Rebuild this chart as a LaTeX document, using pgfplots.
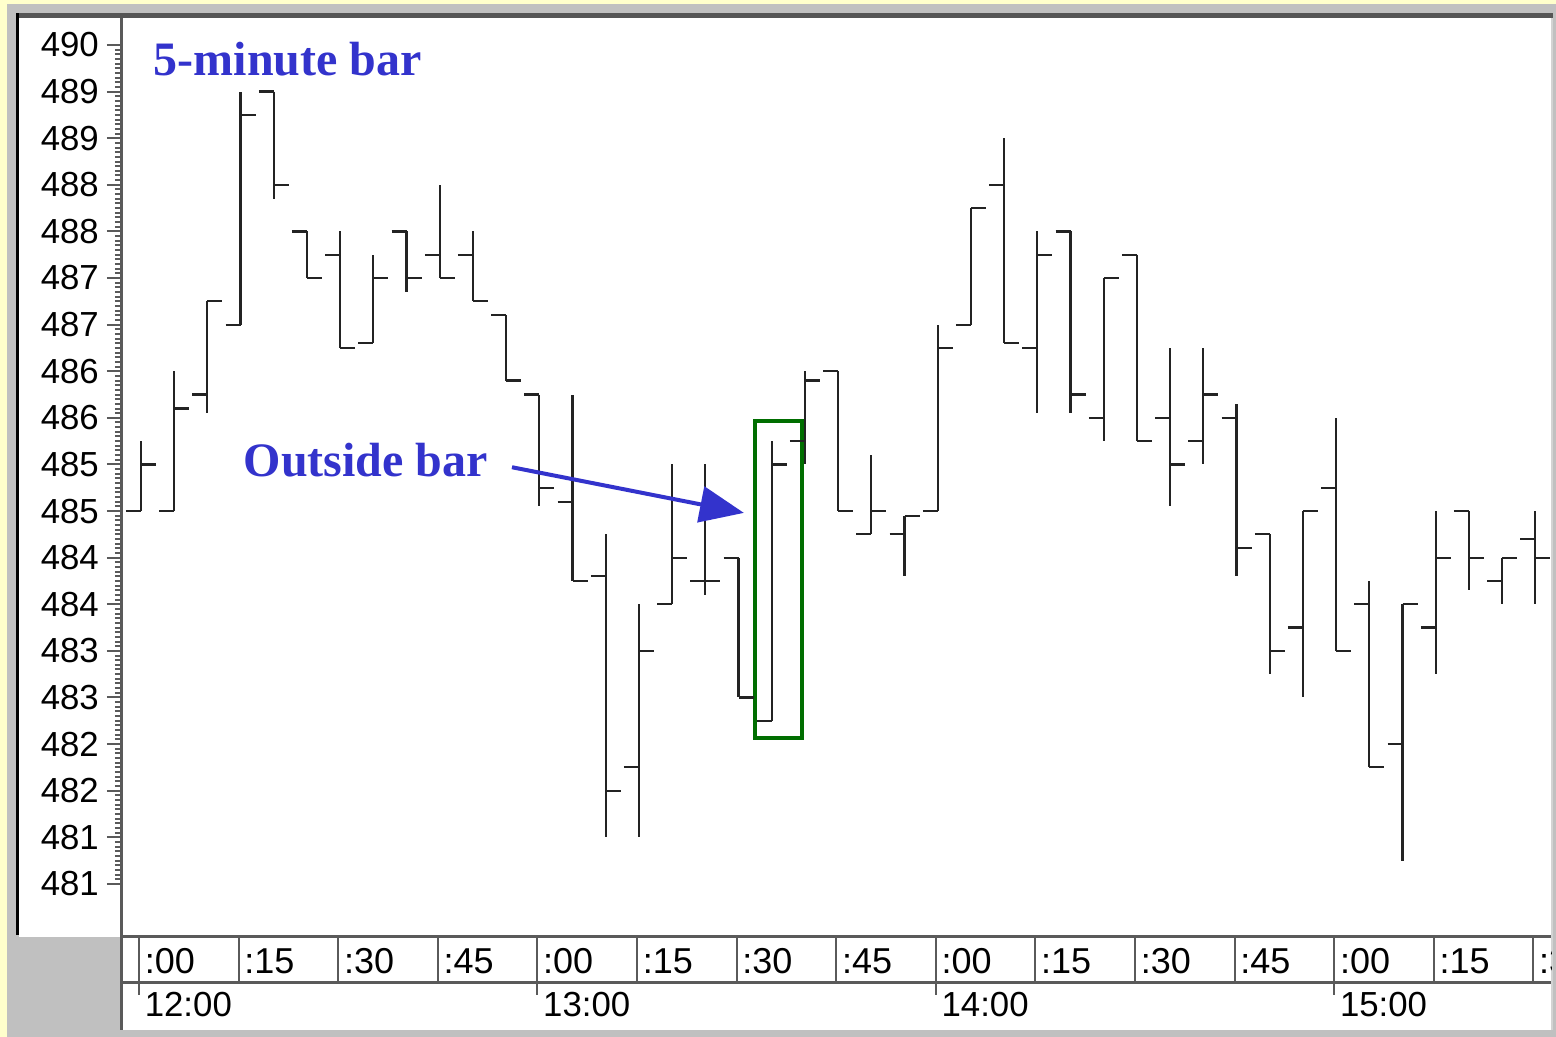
\documentclass[border=0pt]{standalone}
\usepackage{pgfplots}
\pgfplotsset{compat=1.18}
\usepackage{pgfplotstable}
\usetikzlibrary{arrows.meta}
\usepackage{fontspec}
\setmainfont{Liberation Sans}
\newfontfamily\titlefont{Liberation Serif}

\definecolor{bgyellow}{RGB}{255,255,204}
\definecolor{framegray}{RGB}{192,192,192}
\definecolor{darkframe}{RGB}{85,85,85}
\definecolor{bandline}{RGB}{90,90,90}
\definecolor{barcol}{RGB}{35,35,35}
\definecolor{txtblue}{RGB}{51,51,204}
\definecolor{boxgreen}{RGB}{0,110,0}

% open tick to the left, close tick to the right
\pgfdeclareplotmark{openL}{%
  \pgfpathmoveto{\pgfqpoint{-\pgfplotmarksize}{0pt}}%
  \pgfpathlineto{\pgfqpoint{0pt}{0pt}}%
  \pgfusepathqstroke}
\pgfdeclareplotmark{closeR}{%
  \pgfpathmoveto{\pgfqpoint{0pt}{0pt}}%
  \pgfpathlineto{\pgfqpoint{\pgfplotmarksize}{0pt}}%
  \pgfusepathqstroke}

% minutes after 12:00, open, high, low, close
\pgfplotstableread{
t   o      h      l      c
0   485.00 485.75 485.00 485.50
5   485.00 486.50 485.00 486.10
10  486.25 487.25 486.05 487.25
15  487.00 489.50 487.00 489.25
20  489.50 489.50 488.35 488.50
25  488.00 488.00 487.50 487.50
30  487.75 488.00 486.75 486.75
35  486.80 487.75 486.80 487.50
40  488.00 488.00 487.35 487.50
45  487.75 488.50 487.50 487.50
50  487.75 488.00 487.25 487.25
55  487.10 487.10 486.40 486.40
60  486.25 486.25 485.05 485.25
65  485.10 486.25 484.25 484.25
70  484.30 484.75 481.50 482.00
75  482.25 484.00 481.50 483.50
80  484.00 485.50 484.00 484.50
85  484.25 485.50 484.10 484.25
90  484.50 484.50 483.00 483.00
95  482.75 485.75 482.75 485.50
100 485.75 486.50 485.50 486.40
105 486.50 486.50 485.00 485.00
110 484.75 485.60 484.75 485.00
115 484.75 484.95 484.30 484.95
120 485.00 487.00 485.00 486.75
125 487.00 488.25 487.00 488.25
130 488.50 489.00 486.80 486.80
135 486.75 488.00 486.05 487.75
140 488.00 488.00 486.05 486.25
145 486.00 487.50 485.75 487.50
150 487.75 487.75 485.75 485.75
155 486.00 486.75 485.05 485.50
160 485.75 486.75 485.50 486.25
165 486.00 486.15 484.30 484.60
170 484.75 484.75 483.25 483.50
175 483.75 485.00 483.00 485.00
180 485.25 486.00 483.50 483.50
185 484.00 484.25 482.25 482.25
190 482.50 484.00 481.25 484.00
195 483.75 485.00 483.25 484.50
200 485.00 485.00 484.15 484.50
205 484.25 484.50 484.00 484.50
210 484.70 485.00 484.00 484.50
}\bars

\begin{document}
\begin{tikzpicture}
% frame and panels, in pixels of the original picture
\begin{scope}[x=0.25pt,y=-0.25pt]
  \fill[bgyellow] (0,0) rectangle (1556,1037);
  \fill[framegray] (7,4) rectangle (1556,1037);
  \fill[darkframe] (16,13) rectangle (1553,18);
  \fill[black] (16,13) rectangle (19,935);
  \fill[white] (19,18) rectangle (1551,937);
  \fill[white] (121,937) rectangle (1551,1030);
  \draw[framegray!70, line width=0.3pt] (1552,18) -- (1552,1030);
\end{scope}

\begin{axis}[
  at={(30.5pt,-234.25pt)}, anchor=south west,
  scale only axis, width=357.25pt, height=229.75pt,
  xmin=-2.86, xmax=212.35, ymin=480.43, ymax=490.29,
  axis x line*=bottom, axis y line*=left,
  x axis line style={bandline, line width=0.75pt},
  y axis line style={bandline, line width=0.75pt},
  xtick=\empty,
  ytick={481,481.5,482,482.5,483,483.5,484,484.5,485,485.5,486,486.5,487,487.5,488,488.5,489,489.5,490},
  yticklabels={481,481,482,482,483,483,484,484,485,485,486,486,487,487,488,488,489,489,490},
  minor y tick num=9,
  tick align=outside,
  major tick length=3.75pt, minor tick length=1.75pt,
  tick style={line width=0.5pt, color=bandline},
  yticklabel style={font=\fontsize{8.7}{10}\selectfont, text=black, xshift=1.5pt},
  clip=false,
]
  % high-low range with open tick
  \addplot[only marks, mark=openL, mark size=3.75pt,
    mark options={barcol, line width=0.55pt},
    error bars/.cd, y dir=both, y explicit, error mark=none,
    error bar style={barcol, line width=0.55pt}]
    table[x=t, y=o, y error plus expr=\thisrow{h}-\thisrow{o},
          y error minus expr=\thisrow{o}-\thisrow{l}] {\bars};
  % close tick
  \addplot[only marks, mark=closeR, mark size=3.75pt,
    mark options={barcol, line width=0.55pt}]
    table[x=t, y=c] {\bars};

  \node[anchor=base west, inner sep=0pt, text=txtblue,
    font=\titlefont\bfseries\fontsize{12}{14}\selectfont]
    at (axis cs:1.81,489.67) {5-minute bar};
  \node[anchor=base west, inner sep=0pt, text=txtblue,
    font=\titlefont\bfseries\fontsize{12}{14}\selectfont]
    at (axis cs:15.36,485.37) {Outside bar};
  \draw[txtblue, line width=1pt, -{Triangle[length=11pt,width=9pt]}]
    (axis cs:55.87,485.47) -- (axis cs:90.8,484.98);
  \draw[boxgreen, line width=1pt]
    (axis cs:92.47,485.97) rectangle (axis cs:99.55,482.56);
\end{axis}

% time band under the plot
\begin{scope}[x=0.25pt,y=-0.25pt]
  \draw[bandline, line width=0.75pt] (121.5,937) -- (121.5,1030);
  \begin{scope}
    \clip (121,930) rectangle (1551,1030);
    \draw[bandline, line width=0.75pt] (121,982) -- (1551,982);
    \foreach \k/\m in {0/:00,1/:15,2/:30,3/:45,4/:00,5/:15,6/:30,7/:45,
                       8/:00,9/:15,10/:30,11/:45,12/:00,13/:15,14/:30} {
      \draw[bandline, line width=0.5pt] ({139+99.6*\k},938) -- ({139+99.6*\k},982);
      \node[anchor=west, inner sep=0pt, font=\fontsize{9}{10}\selectfont]
        at ({144+99.6*\k},961) {\m};
    }
    \foreach \k/\h in {0/12:00,4/13:00,8/14:00,12/15:00} {
      \draw[bandline, line width=0.5pt] ({139+99.6*\k},982) -- ({139+99.6*\k},995);
      \node[anchor=west, inner sep=0pt, font=\fontsize{8.7}{10}\selectfont]
        at ({144+99.6*\k},1005) {\h};
    }
  \end{scope}
\end{scope}
\pgfresetboundingbox
\useasboundingbox (0,0) rectangle (389pt,-259.25pt);
\end{tikzpicture}
\end{document}
